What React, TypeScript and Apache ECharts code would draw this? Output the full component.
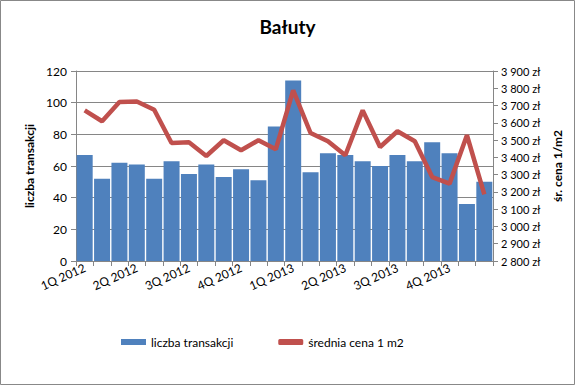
import React, { useEffect, useRef } from "react";
import * as echarts from "echarts";

const months = [
  "1Q 2012", "", "", "2Q 2012", "", "", "3Q 2012", "", "", "4Q 2012", "", "",
  "1Q 2013", "", "", "2Q 2013", "", "", "3Q 2013", "", "", "4Q 2013", "", "",
];
const categories = months.map((m, i) => (m ? m : "m" + (i + 1)));
const transakcje = [67, 52, 62, 61, 52, 63, 55, 61, 53, 58, 51, 85, 114, 56, 68, 67, 63, 60, 67, 63, 75, 68, 36, 50];
const cena = [3672, 3609, 3720, 3723, 3676, 3483, 3487, 3408, 3499, 3441, 3499, 3447, 3788, 3541, 3493, 3412, 3672, 3460, 3551, 3493, 3286, 3248, 3528, 3186];
const FONT = "Lato, 'Liberation Sans', sans-serif";

export default function App() {
  const ref = useRef<HTMLDivElement>(null);
  useEffect(() => {
    document.body.style.margin = "0";
    const chart = echarts.init(ref.current!, null, { renderer: "svg" });
    chart.setOption({
      animation: false,
      backgroundColor: "#fff",
      textStyle: { fontFamily: FONT },
      title: {
        text: "Bałuty",
        left: "center",
        top: 12,
        textStyle: { fontSize: 19, fontWeight: "bold", color: "#000", fontFamily: FONT },
      },
      graphic: [
        {
          type: "rect",
          shape: { x: 0.5, y: 0.5, width: 574, height: 384 },
          style: { fill: "none", stroke: "#888", lineWidth: 1 },
          silent: true,
        },
      ],
      legend: {
        left: 116,
        top: 331,
        itemGap: 45,
        itemWidth: 25,
        itemHeight: 6,
        textStyle: { fontSize: 12, color: "#000", fontFamily: FONT },
        data: [
          { name: "liczba transakcji", icon: "rect" },
          { name: "średnia cena 1 m2", icon: "roundRect" },
        ],
      },
      grid: { left: 76, right: 82, top: 71, bottom: 124 },
      xAxis: {
        type: "category",
        data: categories,
        axisLine: { lineStyle: { color: "#868686" } },
        axisTick: { show: true, alignWithLabel: false, interval: 0, length: 5, lineStyle: { color: "#868686" } },
        axisLabel: {
          interval: 0,
          rotate: 24,
          margin: 6,
          fontSize: 12,
          color: "#000",
          fontFamily: FONT,
          formatter: (v: string) => (v.startsWith("m") ? "" : v),
        },
      },
      yAxis: [
        {
          type: "value",
          min: 0,
          max: 120,
          interval: 20,
          name: "liczba transakcji",
          nameLocation: "middle",
          nameRotate: 90,
          nameGap: 40,
          nameTextStyle: { fontSize: 12, fontWeight: "bold", color: "#000", fontFamily: FONT },
          axisLine: { show: true, lineStyle: { color: "#868686" } },
          axisTick: { show: true, length: 5, lineStyle: { color: "#868686" } },
          axisLabel: { fontSize: 12, color: "#000", margin: 9, fontFamily: FONT },
          splitLine: { lineStyle: { color: "#868686", width: 1 } },
        },
        {
          type: "value",
          min: 2800,
          max: 3900,
          interval: 100,
          name: "śr. cena 1/m2",
          nameLocation: "middle",
          nameRotate: 90,
          nameGap: 57,
          nameTextStyle: { fontSize: 12, fontWeight: "bold", color: "#000", fontFamily: FONT },
          axisLine: { show: true, lineStyle: { color: "#868686" } },
          axisTick: { show: true, length: 5, lineStyle: { color: "#868686" } },
          axisLabel: {
            fontSize: 11,
            color: "#000",
            margin: 8,
            fontFamily: FONT,
            formatter: (v: number) => {
              const s = String(v);
              return s.slice(0, s.length - 3) + " " + s.slice(-3) + " zł";
            },
          },
          splitLine: { show: false },
        },
      ],
      series: [
        {
          name: "liczba transakcji",
          type: "bar",
          data: transakcje,
          barCategoryGap: "8%",
          itemStyle: { color: "#4F81BD" },
          yAxisIndex: 0,
        },
        {
          name: "średnia cena 1 m2",
          type: "line",
          data: cena,
          yAxisIndex: 1,
          symbol: "none",
          lineStyle: { color: "#C0504D", width: 4.5 },
          itemStyle: { color: "#C0504D" },
        },
      ],
    });
    return () => chart.dispose();
  }, []);
  return <div ref={ref} style={{ width: 575, height: 385 }} />;
}
